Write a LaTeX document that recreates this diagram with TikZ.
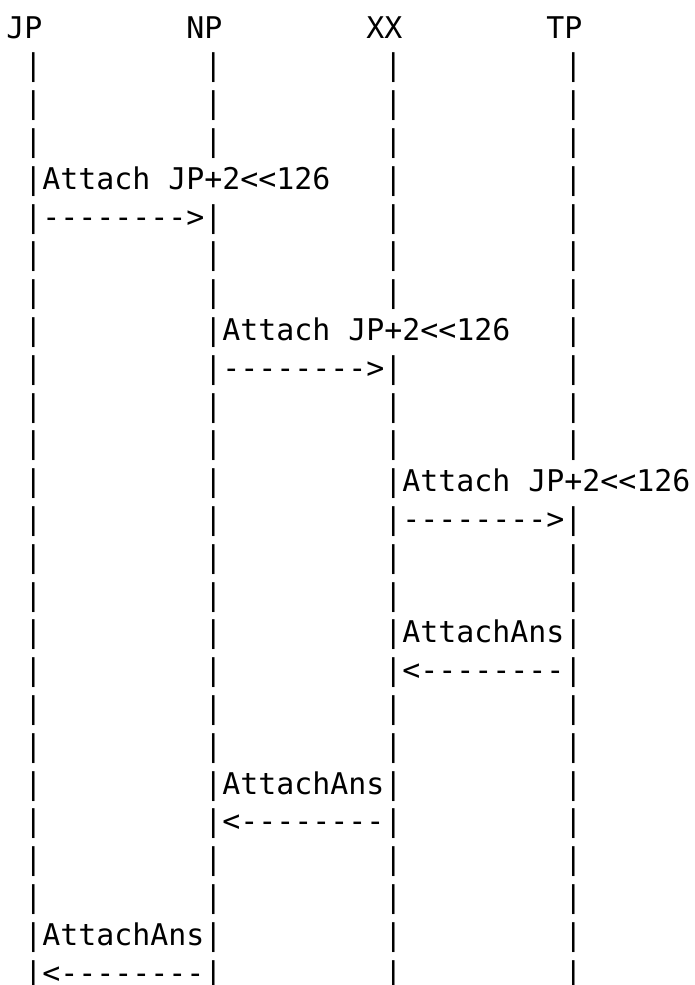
\documentclass[tikz,border=0pt]{standalone}
\usepackage{fontspec}
\setmonofont{DejaVu Sans Mono}
\begin{document}
\begin{tikzpicture}[x=1pt,y=1pt,
  txt/.style={anchor=base west,inner sep=0pt,outer sep=0pt,
    font=\ttfamily\fontsize{29.9}{36}\selectfont,text=black}]
\useasboundingbox[fill=white] (0,0) rectangle (694,-985);
% header (row 1)
\foreach \n/\c in {JP/0,NP/10,XX/20,TP/30}
  \node[txt] (h\n) at ({6.3+\c*18},-38) {\n};
% lifelines drawn as pipe characters (skipped where a label covers them)
\foreach \r in {2,...,26}{
  \foreach \c in {1,11,21,31}{
    \pgfmathtruncatemacro\skipit{((\r==5)&&(\c==11))||((\r==9)&&(\c==21))||((\r==13)&&(\c==31))}
    \ifnum\skipit=0
      \node[txt] (p\r-\c) at ({6.3+\c*18},{-38-(\r-1)*37.8}) {|};
    \fi
  }
}
% messages
\foreach \r/\c/\t in {5/2/Attach JP+2<<126, 6/2/-------->,
  9/12/Attach JP+2<<126, 10/12/-------->,
  13/22/Attach JP+2<<126, 14/22/-------->,
  17/22/AttachAns, 18/22/<--------,
  21/12/AttachAns, 22/12/<--------,
  25/2/AttachAns, 26/2/<--------}
  \node[txt] (m\r) at ({6.3+\c*18},{-38-(\r-1)*37.8}) {\t};
\end{tikzpicture}
\end{document}
